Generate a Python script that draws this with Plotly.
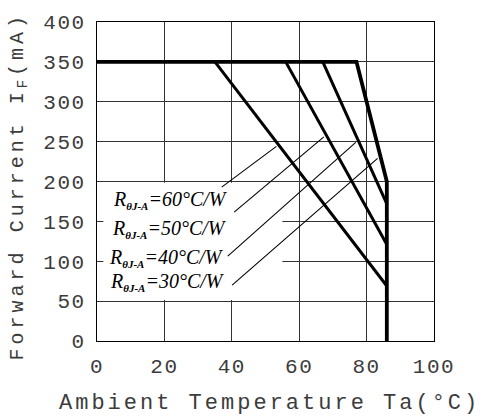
import plotly.graph_objects as go

# ---- data ----
r_theta = [60, 50, 40, 30]            # thermal resistance, °C/W
knee_temp = [35, 56, 67, 77]          # Ta where derating starts, °C
end_current = [69, 121, 172, 200]     # If at maximum Ta, mA
max_current = 350                     # mA
max_temp = 86                         # °C
x_ticks = [0, 20, 40, 60, 80, 100]
y_ticks = [0, 50, 100, 150, 200, 250, 300, 350, 400]
leader_level = [244, 256, 249, 229]   # current where each leader meets its curve

# ---- layout settings ----
label_pos = [(4.2, 176.5), (3.9, 140), (3.1, 104.5), (3.4, 74)]
leader_start = [(37.0, 193), (40.7, 161.5), (38.8, 106.5), (40.1, 70)]
mono = "Liberation Mono"
serif = "Liberation Serif"
txtcol = "#3c3c3c"


def spaced(s, px):
    return f'<span style="letter-spacing:{px}px">{s}</span>'


fig = go.Figure()

# envelope (plateau + lowest-resistance curve + Ta max)
fig.add_trace(go.Scatter(
    x=[0, knee_temp[-1], max_temp, max_temp],
    y=[max_current, max_current, end_current[-1], 0],
    mode="lines", line=dict(color="black", width=3.8), hoverinfo="skip"))

for k, e in zip(knee_temp[:-1], end_current[:-1]):
    fig.add_trace(go.Scatter(
        x=[k, max_temp], y=[max_current, e],
        mode="lines", line=dict(color="black", width=3), hoverinfo="skip"))

shapes = [dict(type="rect", xref="x", yref="y", x0=1.9, x1=55, y0=51.5, y1=198.5,
               fillcolor="white", line=dict(width=0), layer="between")]

for (sx, sy), lvl, k, e in zip(leader_start, leader_level, knee_temp, end_current):
    ex = k + (max_current - lvl) / (max_current - e) * (max_temp - k) - 1.0
    shapes.append(dict(type="line", xref="x", yref="y", x0=sx, y0=sy, x1=ex, y1=lvl,
                       line=dict(color="black", width=1.1)))

annotations = []
for (lx, ly), r in zip(label_pos, r_theta):
    annotations.append(dict(
        x=lx, y=ly, xref="x", yref="y", xanchor="left", yanchor="middle",
        showarrow=False,
        text=(f'R<sub><span style="font-size:11px;font-weight:bold">θJ-A</span></sub>'
              f'={r}°C/W'),
        font=dict(family=serif, size=20, color="black", style="italic")))

annotations.append(dict(
    x=-0.2344, y=0.4847, xref="paper", yref="paper", xanchor="center", yanchor="middle",
    showarrow=False, textangle=-90,
    text=spaced("Forward Current I<sub>F</sub>(mA)", 4),
    font=dict(family=mono, size=20, color=txtcol)))
annotations.append(dict(
    x=0.513, y=-0.196, xref="paper", yref="paper", xanchor="center", yanchor="middle",
    showarrow=False,
    text=spaced("Ambient Temperature Ta(°C)", 3),
    font=dict(family=mono, size=22, color=txtcol)))

axis_common = dict(showgrid=True, gridcolor="#333", gridwidth=1.1,
                   showline=True, linecolor="black", linewidth=1.4, mirror=True,
                   ticks="", zeroline=False, tickfont=dict(family=mono, size=21, color=txtcol))

fig.update_layout(
    width=483, height=419,
    margin=dict(l=97, r=49, t=14, b=78),
    paper_bgcolor="white", plot_bgcolor="white",
    showlegend=False,
    xaxis=dict(range=[0, 100], tickvals=x_ticks,
               ticktext=[spaced(str(v), 1.5) for v in x_ticks],
               ticklabelstandoff=6, **axis_common),
    yaxis=dict(range=[0, 400], tickvals=y_ticks,
               ticktext=[spaced(str(v), 1.5) for v in y_ticks],
               ticklabelstandoff=6, **axis_common),
    shapes=shapes, annotations=annotations,
)

fig.write_html("out.html")
